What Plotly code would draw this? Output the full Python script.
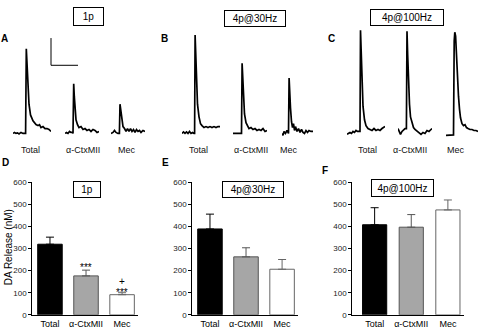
import plotly.graph_objects as go

W, H = 481, 332
FONT = "Liberation Sans, Arial, sans-serif"

# ---------------- Top row: DA release traces (t in samples, signal in a.u. above baseline)
a_total_t = [0, 1.5, 3, 4.5, 6, 8, 10, 12, 12.6, 13.3, 14, 15, 16, 17.5, 20, 23, 25, 26.5, 28, 30, 32, 34, 36, 38]
a_total_v = [0, 1, 0, 0.5, -0.5, 1, 0, 0.5, 0, 87, 68, 45, 30, 19, 13, 9, 8, 9, 6, 7, 5, 5, 4, 2]
a_ctx_t = [0, 1.5, 3, 4.5, 6, 7.5, 8, 8.7, 9.3, 10, 11, 12.5, 14, 16, 18, 20, 22, 24, 26, 28, 30, 32, 34]
a_ctx_v = [0, 1, 0, 2, 1, 1, 0, 51, 38, 24, 14, 9, 6, 7, 4, 5, 3, 4, 2, 4, 3, 1, 2]
a_mec_t = [0, 2, 3.5, 5, 7, 8.4, 9, 9.8, 10.8, 12, 13.5, 15, 16.5, 18, 19.5, 21, 22.5, 24, 25.5, 27, 28.5, 30, 32, 34]
a_mec_v = [0, 1, 3, 1, 0, 0, 30, 22, 14, 7, 5, 2, 5, 2, 5, 2, 4, 1, 4, 2, 3, 1, 3, 2]

b_total_t = [0, 1.5, 3, 4.5, 6, 7.5, 9, 10.5, 12, 12.6, 13.1, 13.7, 14.5, 15.5, 17, 18.5, 20, 22, 24, 26, 28, 30, 32, 34, 36, 38]
b_total_v = [0, 1.5, 0, 1.5, 0, 2, 0, 1, 0, 0, 101, 80, 50, 30, 17, 10, 8, 6, 7, 6, 7, 6, 7, 6, 7, 7]
b_ctx_t = [0, 2, 4, 6, 8, 8.5, 9.1, 9.7, 10.5, 11.5, 13, 14.5, 16, 18, 20, 22, 24, 26, 28, 30, 32, 34]
b_ctx_v = [0, 0, 0.5, 0, 0, 0, 72, 55, 35, 20, 11, 7, 5, 6, 4, 5, 3, 4, 3, 5, 2, 3]
b_mec_t = [0, 1, 2, 3.5, 5, 6, 6.5, 7.1, 7.7, 8.5, 9.5, 10.5, 11.5, 12.5, 13.5, 15, 16.5, 18, 19.5, 21, 22.5, 24, 25.5, 27, 29, 31]
b_mec_v = [0, -2, 2, 0, 3, 1, 0, 57, 40, 26, 12, 6, 10, 3, 7, 2, 5, 1, 4, 1, 0, 3, 1, 3, 2, 2]

c_total_t = [0, 1.5, 3, 4.5, 6, 7.5, 9, 10.5, 13, 13.5, 14.2, 15, 16, 17.5, 19, 21, 23, 25, 27, 29, 31, 33, 35, 37, 38]
c_total_v = [-1, 0, 1, 0, 2, 1, 3, 2, 2, 106, 80, 50, 28, 14, 8, 5, 4, 3, 5, 3, 4, 3, 5, 6, 7]
c_ctx_t = [0, 1, 2.5, 4, 5.5, 7, 8.4, 9, 9.7, 10.5, 11.5, 12.5, 14, 15.5, 17, 19, 21, 23, 25, 27, 29, 31, 33, 34]
c_ctx_v = [5, 3, -1, 2, 4, 5, 5, 105, 80, 50, 30, 17, 10, 6, 4, 2, 0, -1, 1, 0, 3, 2, 4, 5]
c_mec_t = [0, 2, 4, 6, 7.5, 8.2, 8.8, 9.6, 10.5, 11.5, 12.5, 13.5, 14.5, 16, 17.5, 19, 20.5, 22, 24, 26, 28, 30, 32]
c_mec_v = [-2, -2, -2, -1.5, -1.5, 95, 104, 100, 75, 55, 38, 25, 16, 10, 8, 9, 6, 5, 4, 4, 3, 3, 2]

trace_labels = ["Total", "α-CtxMII", "Mec"]
top_titles = ["1p", "4p@30Hz", "4p@100Hz"]

# ---------------- Bottom row: DA release (nM), mean + SEM
groups = ["Total", "α-CtxMII", "Mec"]
d_mean = [319, 176, 91]
d_err = [32, 26, 9]
e_mean = [388, 262, 206]
e_err = [67, 41, 44]
f_mean = [407, 396, 474]
f_err = [77, 57, 45]
y_ticks = [0, 100, 200, 300, 400, 500, 600]
bottom_titles = ["1p", "4p@30Hz", "4p@100Hz"]

# ---------------- layout helpers (pixel -> paper)
def px(x):
    return x / W

def py(y):
    return 1 - y / H

fig = go.Figure()
layout = dict(
    width=W, height=H, margin=dict(l=0, r=0, t=0, b=0),
    paper_bgcolor="white", plot_bgcolor="rgba(0,0,0,0)",
    showlegend=False, font=dict(family=FONT, color="black"),
    annotations=[], shapes=[],
)

traces = [
    (a_total_t, a_total_v, 13), (a_ctx_t, a_ctx_v, 65), (a_mec_t, a_mec_v, 111),
    (b_total_t, b_total_v, 182), (b_ctx_t, b_ctx_v, 233), (b_mec_t, b_mec_v, 282),
    (c_total_t, c_total_v, 347), (c_ctx_t, c_ctx_v, 398), (c_mec_t, c_mec_v, 446),
]
for i, (t, v, x0) in enumerate(traces, start=1):
    sfx = "" if i == 1 else str(i)
    fig.add_trace(go.Scatter(x=t, y=v, mode="lines", line=dict(color="black", width=1.7),
                             xaxis="x" + sfx, yaxis="y" + sfx, hoverinfo="skip"))
    tmax = max(t)
    layout["xaxis" + sfx] = dict(domain=[px(x0), px(x0 + tmax)], range=[0, tmax], visible=False,
                                 anchor="y" + sfx, fixedrange=True)
    layout["yaxis" + sfx] = dict(domain=[py(140), py(20)], range=[-7, 113], visible=False,
                                 anchor="x" + sfx, fixedrange=True)

# trace labels
label_pos = [(30, 82.5, 127), (198.5, 250.5, 288.5), (367, 410, 455.5)]
for row in label_pos:
    for lab, xc in zip(trace_labels, row):
        layout["annotations"].append(dict(text=lab, x=px(xc), y=py(150.5), xref="paper", yref="paper",
                                          showarrow=False, xanchor="center", yanchor="middle",
                                          font=dict(size=9, family=FONT, color="#111")))

# scale bar in panel A
layout["shapes"] += [
    dict(type="line", xref="paper", yref="paper", x0=px(51), x1=px(51), y0=py(35), y1=py(63),
         line=dict(color="black", width=1)),
    dict(type="line", xref="paper", yref="paper", x0=px(51), x1=px(78), y0=py(63), y1=py(63),
         line=dict(color="black", width=1)),
]

def box(text, cx, cy, w, h):
    layout["annotations"].append(dict(text=text, x=px(cx), y=py(cy), xref="paper", yref="paper",
                                      showarrow=False, xanchor="center", yanchor="middle",
                                      width=w, height=h, borderpad=0, bordercolor="black", borderwidth=1,
                                      bgcolor="white", font=dict(size=10, family=FONT, color="black")))

for txt, (cx, cy, w, h) in zip(top_titles, [(88.8, 13.2, 29, 17), (254.5, 14.5, 60, 15), (407, 14.2, 72, 15)]):
    box(txt, cx, cy, w, h)

# panel letters
for letter, (cx, cy) in zip("ABCDEF", [(4.5, 35.5), (164.5, 35.5), (331, 35.5), (5.5, 162.5), (165.5, 162.5), (325, 171.5)]):
    layout["annotations"].append(dict(text="<b>%s</b>" % letter, x=px(cx), y=py(cy), xref="paper", yref="paper",
                                      showarrow=False, xanchor="center", yanchor="middle",
                                      font=dict(size=10, family=FONT, color="black")))

# ---------------- bar panels
bar_fill = ["black", "#a6a6a6", "white"]
bar_line = ["black", "#555555", "#666666"]
panels = [
    (d_mean, d_err, 32.3, 138.3, [-0.49, 2.45], 0.68),
    (e_mean, e_err, 192.3, 298.3, [-0.49, 2.45], 0.68),
    (f_mean, f_err, 352.3, 464.0, [-0.61, 2.44], 0.66),
]
for k, (mean, err, xl, xr, rng, bw) in enumerate(panels):
    n = 10 + k
    sfx = str(n)
    for j in range(3):
        fig.add_trace(go.Bar(
            x=[groups[j]], y=[mean[j]], width=bw,
            marker=dict(color=bar_fill[j], line=dict(color=bar_line[j], width=1)),
            error_y=dict(type="data", array=[err[j]], arrayminus=[0], symmetric=False,
                         color=bar_line[j], thickness=1, width=4),
            xaxis="x" + sfx, yaxis="y" + sfx, hoverinfo="skip"))
    layout["xaxis" + sfx] = dict(domain=[px(xl), px(xr)], range=rng, type="category",
                                 categoryorder="array", categoryarray=groups,
                                 showline=True, linecolor="black", linewidth=1, ticks="",
                                 tickfont=dict(size=9, family=FONT, color="black"),
                                 showgrid=False, zeroline=False, anchor="y" + sfx, fixedrange=True)
    layout["yaxis" + sfx] = dict(domain=[py(319.5), py(183)], range=[0, 600], tickvals=y_ticks,
                                 showline=True, linecolor="black", linewidth=1, ticks="outside",
                                 ticklen=3, tickwidth=1, tickcolor="black",
                                 tickfont=dict(size=8, family=FONT, color="#222"),
                                 showgrid=False, zeroline=False, anchor="x" + sfx, fixedrange=True)

for txt, (cx, cy, w, h) in zip(bottom_titles, [(86.7, 191, 26, 15), (252.5, 191, 60, 15), (402.3, 189, 61, 16)]):
    box(txt, cx, cy, w, h)

# y axis title (panel D)
layout["annotations"].append(dict(text="DA Release (nM)", x=px(8), y=py(250), xref="paper", yref="paper",
                                  showarrow=False, textangle=-90, xanchor="center", yanchor="middle",
                                  font=dict(size=10, family=FONT, color="black")))

# significance markers in panel D (placed just above the SEM caps)
sig = [("***", 1, d_mean[1] + d_err[1] + 10), ("+", 2, d_mean[2] + d_err[2] + 51),
       ("***", 2, d_mean[2] + d_err[2] + 1)]
for txt, j, yv in sig:
    layout["annotations"].append(dict(text=txt, x=groups[j], y=yv, xref="x10", yref="y10",
                                      showarrow=False, xanchor="center", yanchor="middle",
                                      font=dict(size=10, family=FONT, color="black")))

fig.update_layout(**layout)
fig.write_html("out.html", config={"displayModeBar": False, "staticPlot": True},
               post_script="document.body.style.margin='0';document.body.style.overflow='hidden';")
